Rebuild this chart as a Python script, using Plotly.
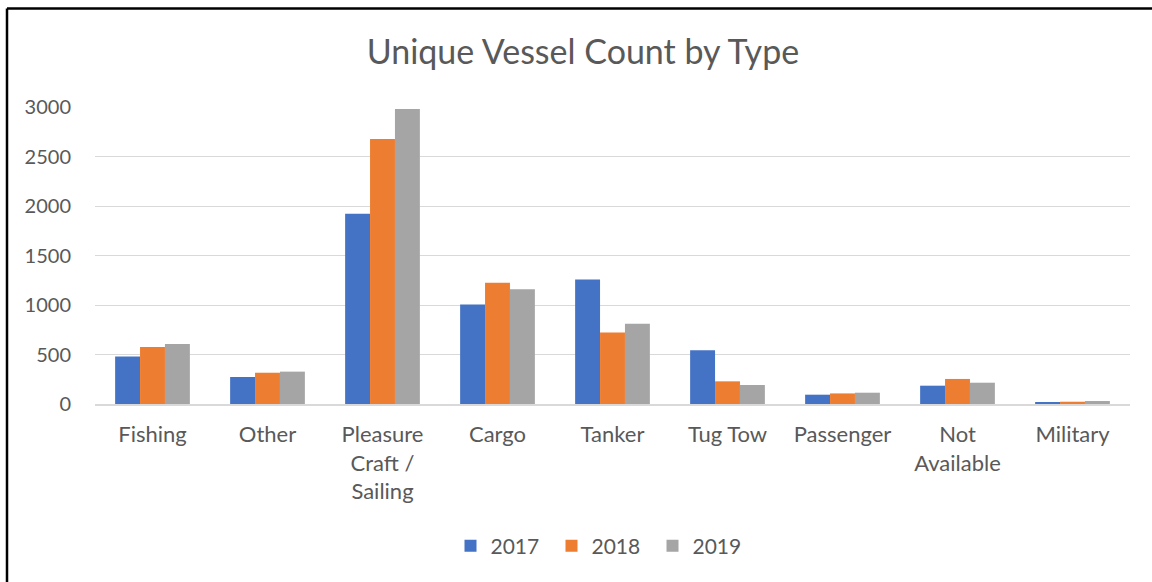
import plotly.graph_objects as go

categories = ["Fishing", "Other", "Pleasure<br>Craft /<br>Sailing", "Cargo", "Tanker",
              "Tug Tow", "Passenger", "Not<br>Available", "Military"]
years = ["2017", "2018", "2019"]
v2017 = [481, 273, 1921, 1006, 1258, 543, 94, 185, 17]
v2018 = [576, 316, 2676, 1224, 723, 229, 107, 253, 23]
v2019 = [607, 327, 2979, 1160, 811, 192, 114, 215, 30]
colors = ["#4472C4", "#ED7D31", "#A5A5A5"]
y_ticks = [0, 500, 1000, 1500, 2000, 2500, 3000]

fig = go.Figure()
for name, vals, c in zip(years, [v2017, v2018, v2019], colors):
    fig.add_trace(go.Bar(name=name, x=categories, y=vals, marker_color=c,
                         marker_line_width=0))

W, H = 1152, 582
L, R, T, B = 95, 22, 107, 178
pw, ph = W - L - R, H - T - B

def px_x(x):
    return (x - L) / pw

def px_y(y):
    return (H - B - y) / ph

font_family = "Lato, 'Open Sans', sans-serif"
fig.update_layout(
    width=W, height=H,
    margin=dict(l=L, r=R, t=T, b=B, autoexpand=False),
    paper_bgcolor="white", plot_bgcolor="white",
    barmode="group", bargap=0.35, bargroupgap=0,
    font=dict(family=font_family, color="#595959", size=20),
    title=dict(text="Unique Vessel Count by Type", x=0.506, xanchor="center",
               y=1 - 52 / H, yanchor="middle",
               font=dict(size=34, color="#595959", family=font_family)),
    xaxis=dict(showgrid=False, ticks="", tickfont=dict(size=22, color="#595959"),
               showline=True, linecolor="#D9D9D9", linewidth=1.5,
               ticklabelstandoff=10),
    yaxis=dict(range=[0, 3000], tickvals=y_ticks, showgrid=True,
               gridcolor="#D9D9D9", gridwidth=1, zeroline=False,
               tickfont=dict(size=20, color="#595959"), ticks="",
               ticklabelstandoff=23),
    legend=dict(orientation="h", x=px_x(602), xanchor="center", y=px_y(546),
                yanchor="middle", font=dict(size=21, color="#595959"),
                traceorder="normal", itemwidth=30,
                entrywidth=56, entrywidthmode="pixels"),
    showlegend=True,
    shapes=[
        dict(type="line", xref="paper", yref="paper", x0=px_x(7), x1=px_x(1160),
             y0=px_y(8.5), y1=px_y(8.5), line=dict(color="black", width=2.5)),
        dict(type="line", xref="paper", yref="paper", x0=px_x(7), x1=px_x(7),
             y0=px_y(8.5), y1=px_y(600), line=dict(color="black", width=2.5)),
    ],
)

fig.write_html("out.html", config={"displayModeBar": False})
with open("out.html", "r", encoding="utf-8") as f:
    html = f.read()
html = html.replace("<head>", "<head><style>html,body{margin:0;padding:0;overflow:hidden;}</style>", 1)
with open("out.html", "w", encoding="utf-8") as f:
    f.write(html)
